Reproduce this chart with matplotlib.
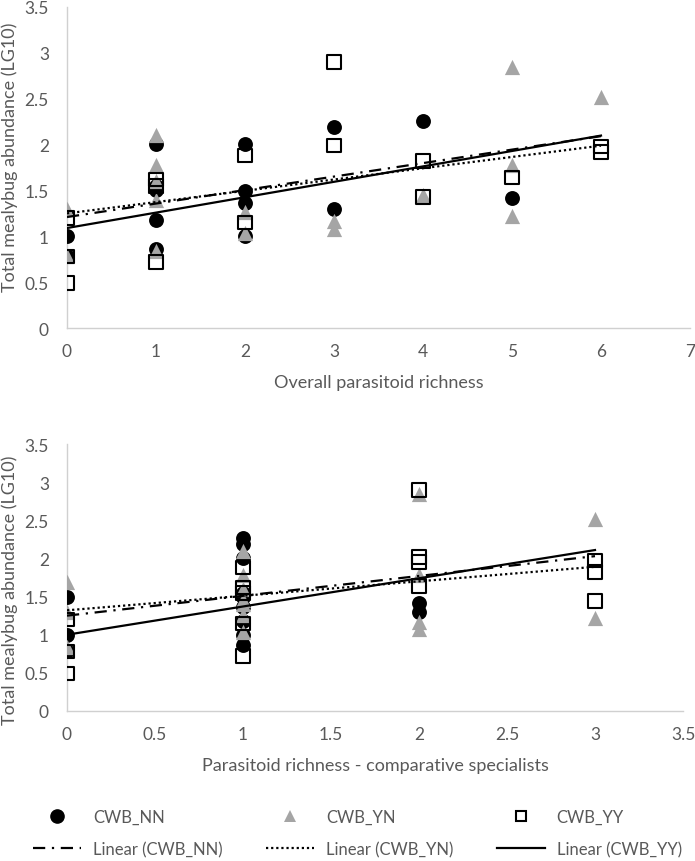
import matplotlib.pyplot as plt
from matplotlib.lines import Line2D

plt.rcParams['font.family'] = ['Lato', 'DejaVu Sans']

# ---- data ----
# top panel: overall parasitoid richness
top_nn_x = [0, 0, 1, 1, 1, 1, 1, 2, 2, 2, 2, 3, 3, 4, 5]
top_nn_y = [1.0, 0.78, 2.01, 1.55, 1.5, 1.18, 0.86, 2.01, 1.49, 1.36, 1.0, 2.19, 1.3, 2.26, 1.42]
top_yn_x = [0, 0, 1, 1, 1, 1, 1, 2, 2, 3, 3, 4, 5, 5, 5, 6]
top_yn_y = [1.3, 0.78, 2.1, 1.78, 1.6, 1.4, 0.84, 1.26, 1.04, 1.17, 1.08, 1.45, 2.85, 1.78, 1.22, 2.52]
top_yy_x = [0, 0, 0, 1, 1, 1, 2, 2, 3, 3, 4, 4, 5, 6, 6]
top_yy_y = [1.2, 0.78, 0.49, 1.62, 1.55, 0.72, 1.88, 1.15, 2.9, 1.99, 1.82, 1.43, 1.64, 1.98, 1.92]

# bottom panel: comparative specialists
bot_nn_x = [0, 0, 0, 1, 1, 1, 1, 1, 1, 1, 1, 1, 2, 2]
bot_nn_y = [1.49, 1.0, 0.78, 2.27, 2.19, 2.01, 1.55, 1.5, 1.36, 1.18, 1.0, 0.86, 1.42, 1.3]
bot_yn_x = [0, 0, 0, 1, 1, 1, 1, 1, 1, 1, 2, 2, 2, 2, 3, 3]
bot_yn_y = [1.69, 1.3, 0.84, 2.1, 1.78, 1.6, 1.45, 1.4, 1.26, 1.04, 2.85, 1.78, 1.17, 1.08, 2.52, 1.22]
bot_yy_x = [0, 0, 0, 1, 1, 1, 1, 1, 2, 2, 2, 2, 3, 3, 3]
bot_yy_y = [1.2, 0.78, 0.49, 1.88, 1.62, 1.55, 1.15, 0.72, 2.9, 2.02, 1.95, 1.64, 1.97, 1.82, 1.44]

# linear trendlines (intercept, slope) and x range
top_trend_nn = [1.21, 0.147]
top_trend_yn = [1.25, 0.123]
top_trend_yy = [1.09, 0.168]
top_trend_x = [0, 6]
bot_trend_nn = [1.25, 0.26]
bot_trend_yn = [1.32, 0.19]
bot_trend_yy = [1.0, 0.37]
bot_trend_x = [0, 3]

labels = ['CWB_NN', 'CWB_YN', 'CWB_YY']
ytick_vals = [0, 0.5, 1, 1.5, 2, 2.5, 3, 3.5]
ytick_labels = ['0', '0.5', '1', '1.5', '2', '2.5', '3', '3.5']
top_xticks = [0, 1, 2, 3, 4, 5, 6, 7]
bot_xticks = [0, 0.5, 1, 1.5, 2, 2.5, 3, 3.5]
bot_xtick_labels = ['0', '0.5', '1', '1.5', '2', '2.5', '3', '3.5']

TXT = '#595959'
GRAY = '#a5a5a5'
SPINE = '#d0d0d0'
FS = 12.5
FS_LAB = 13
FS_LEG = 12
W, H = 695, 862

dashdot = (0, (5.5, 3.0, 1.0, 3.0))
dotted = (0, (1.0, 1.3))


def style_axes(ax, xlim, xticks, xticklabels):
    ax.set_xlim(*xlim)
    ax.set_ylim(0, 3.5)
    ax.set_xticks(xticks)
    ax.set_xticklabels(xticklabels)
    ax.set_yticks(ytick_vals)
    ax.set_yticklabels(ytick_labels)
    for s in ['top', 'right']:
        ax.spines[s].set_visible(False)
    for s in ['left', 'bottom']:
        ax.spines[s].set_color(SPINE)
        ax.spines[s].set_linewidth(1.0)
    ax.tick_params(length=0, labelsize=FS, labelcolor=TXT)
    ax.tick_params(axis='x', pad=11)
    ax.tick_params(axis='y', pad=13)


def draw_panel(ax, nn, yn, yy, trends, tx):
    ax.scatter(nn[0], nn[1], marker='o', s=115, color='black', zorder=3, linewidths=0)
    ax.scatter(yn[0], yn[1], marker='^', s=120, color=GRAY, zorder=4, linewidths=0)
    ax.scatter(yy[0], yy[1], marker='s', s=95, facecolors='none', edgecolors='black',
               linewidths=1.5, zorder=5)
    styles = [dashdot, dotted, '-']
    for (b0, b1), ls in zip(trends, styles):
        ys = [b0 + b1 * x for x in tx]
        ax.plot(tx, ys, color='black', lw=1.6, linestyle=ls, zorder=6)


fig = plt.figure(figsize=(W / 100, H / 100), dpi=100)

ax1 = fig.add_axes([67 / W, 1 - 329 / H, (690 - 67) / W, (329 - 8) / H])
style_axes(ax1, (0, 7), top_xticks, [str(v) for v in top_xticks])
draw_panel(ax1, (top_nn_x, top_nn_y), (top_yn_x, top_yn_y), (top_yy_x, top_yy_y),
           [top_trend_nn, top_trend_yn, top_trend_yy], top_trend_x)
ax1.set_xlabel('Overall parasitoid richness', fontsize=FS_LAB, color=TXT)
ax1.set_ylabel('Total mealybug abundance (LG10)', fontsize=FS_LAB, color=TXT)
ax1.xaxis.set_label_coords(0.5, -0.143)
ax1.yaxis.set_label_coords(-0.079, 0.536)

ax2 = fig.add_axes([67 / W, 1 - 712 / H, (683 - 67) / W, (712 - 445) / H])
style_axes(ax2, (0, 3.5), bot_xticks, bot_xtick_labels)
draw_panel(ax2, (bot_nn_x, bot_nn_y), (bot_yn_x, bot_yn_y), (bot_yy_x, bot_yy_y),
           [bot_trend_nn, bot_trend_yn, bot_trend_yy], bot_trend_x)
ax2.set_xlabel('Parasitoid richness - comparative specialists', fontsize=FS_LAB, color=TXT)
ax2.set_ylabel('Total mealybug abundance (LG10)', fontsize=FS_LAB, color=TXT)
ax2.xaxis.set_label_coords(0.5, -0.172)
ax2.yaxis.set_label_coords(-0.080, 0.457)

# legend: markers on first row, trendlines on second
h_nn = Line2D([], [], marker='o', ls='none', color='black', markersize=9.5)
h_yn = Line2D([], [], marker='^', ls='none', color=GRAY, markeredgewidth=0, markersize=9)
h_yy = Line2D([], [], marker='s', ls='none', markerfacecolor='none', markeredgecolor='black',
              markeredgewidth=1.5, markersize=7.5)
l_nn = Line2D([], [], color='black', lw=1.6, linestyle=dashdot)
l_yn = Line2D([], [], color='black', lw=1.6, linestyle=dotted)
l_yy = Line2D([], [], color='black', lw=1.6, linestyle='-')
handles = [h_nn, l_nn, h_yn, l_yn, h_yy, l_yy]
leg_labels = [labels[0], 'Linear (' + labels[0] + ')', labels[1], 'Linear (' + labels[1] + ')',
              labels[2], 'Linear (' + labels[2] + ')']
leg = fig.legend(handles, leg_labels, ncol=3, frameon=False, fontsize=FS_LEG,
                 loc='center left', bbox_to_anchor=(18 / W, 1 - 834 / H),
                 handlelength=2.9, handletextpad=0.7, columnspacing=2.6,
                 labelspacing=0.95, borderpad=0.4)
for t in leg.get_texts():
    t.set_color(TXT)

fig.savefig('out.png', dpi=100)
